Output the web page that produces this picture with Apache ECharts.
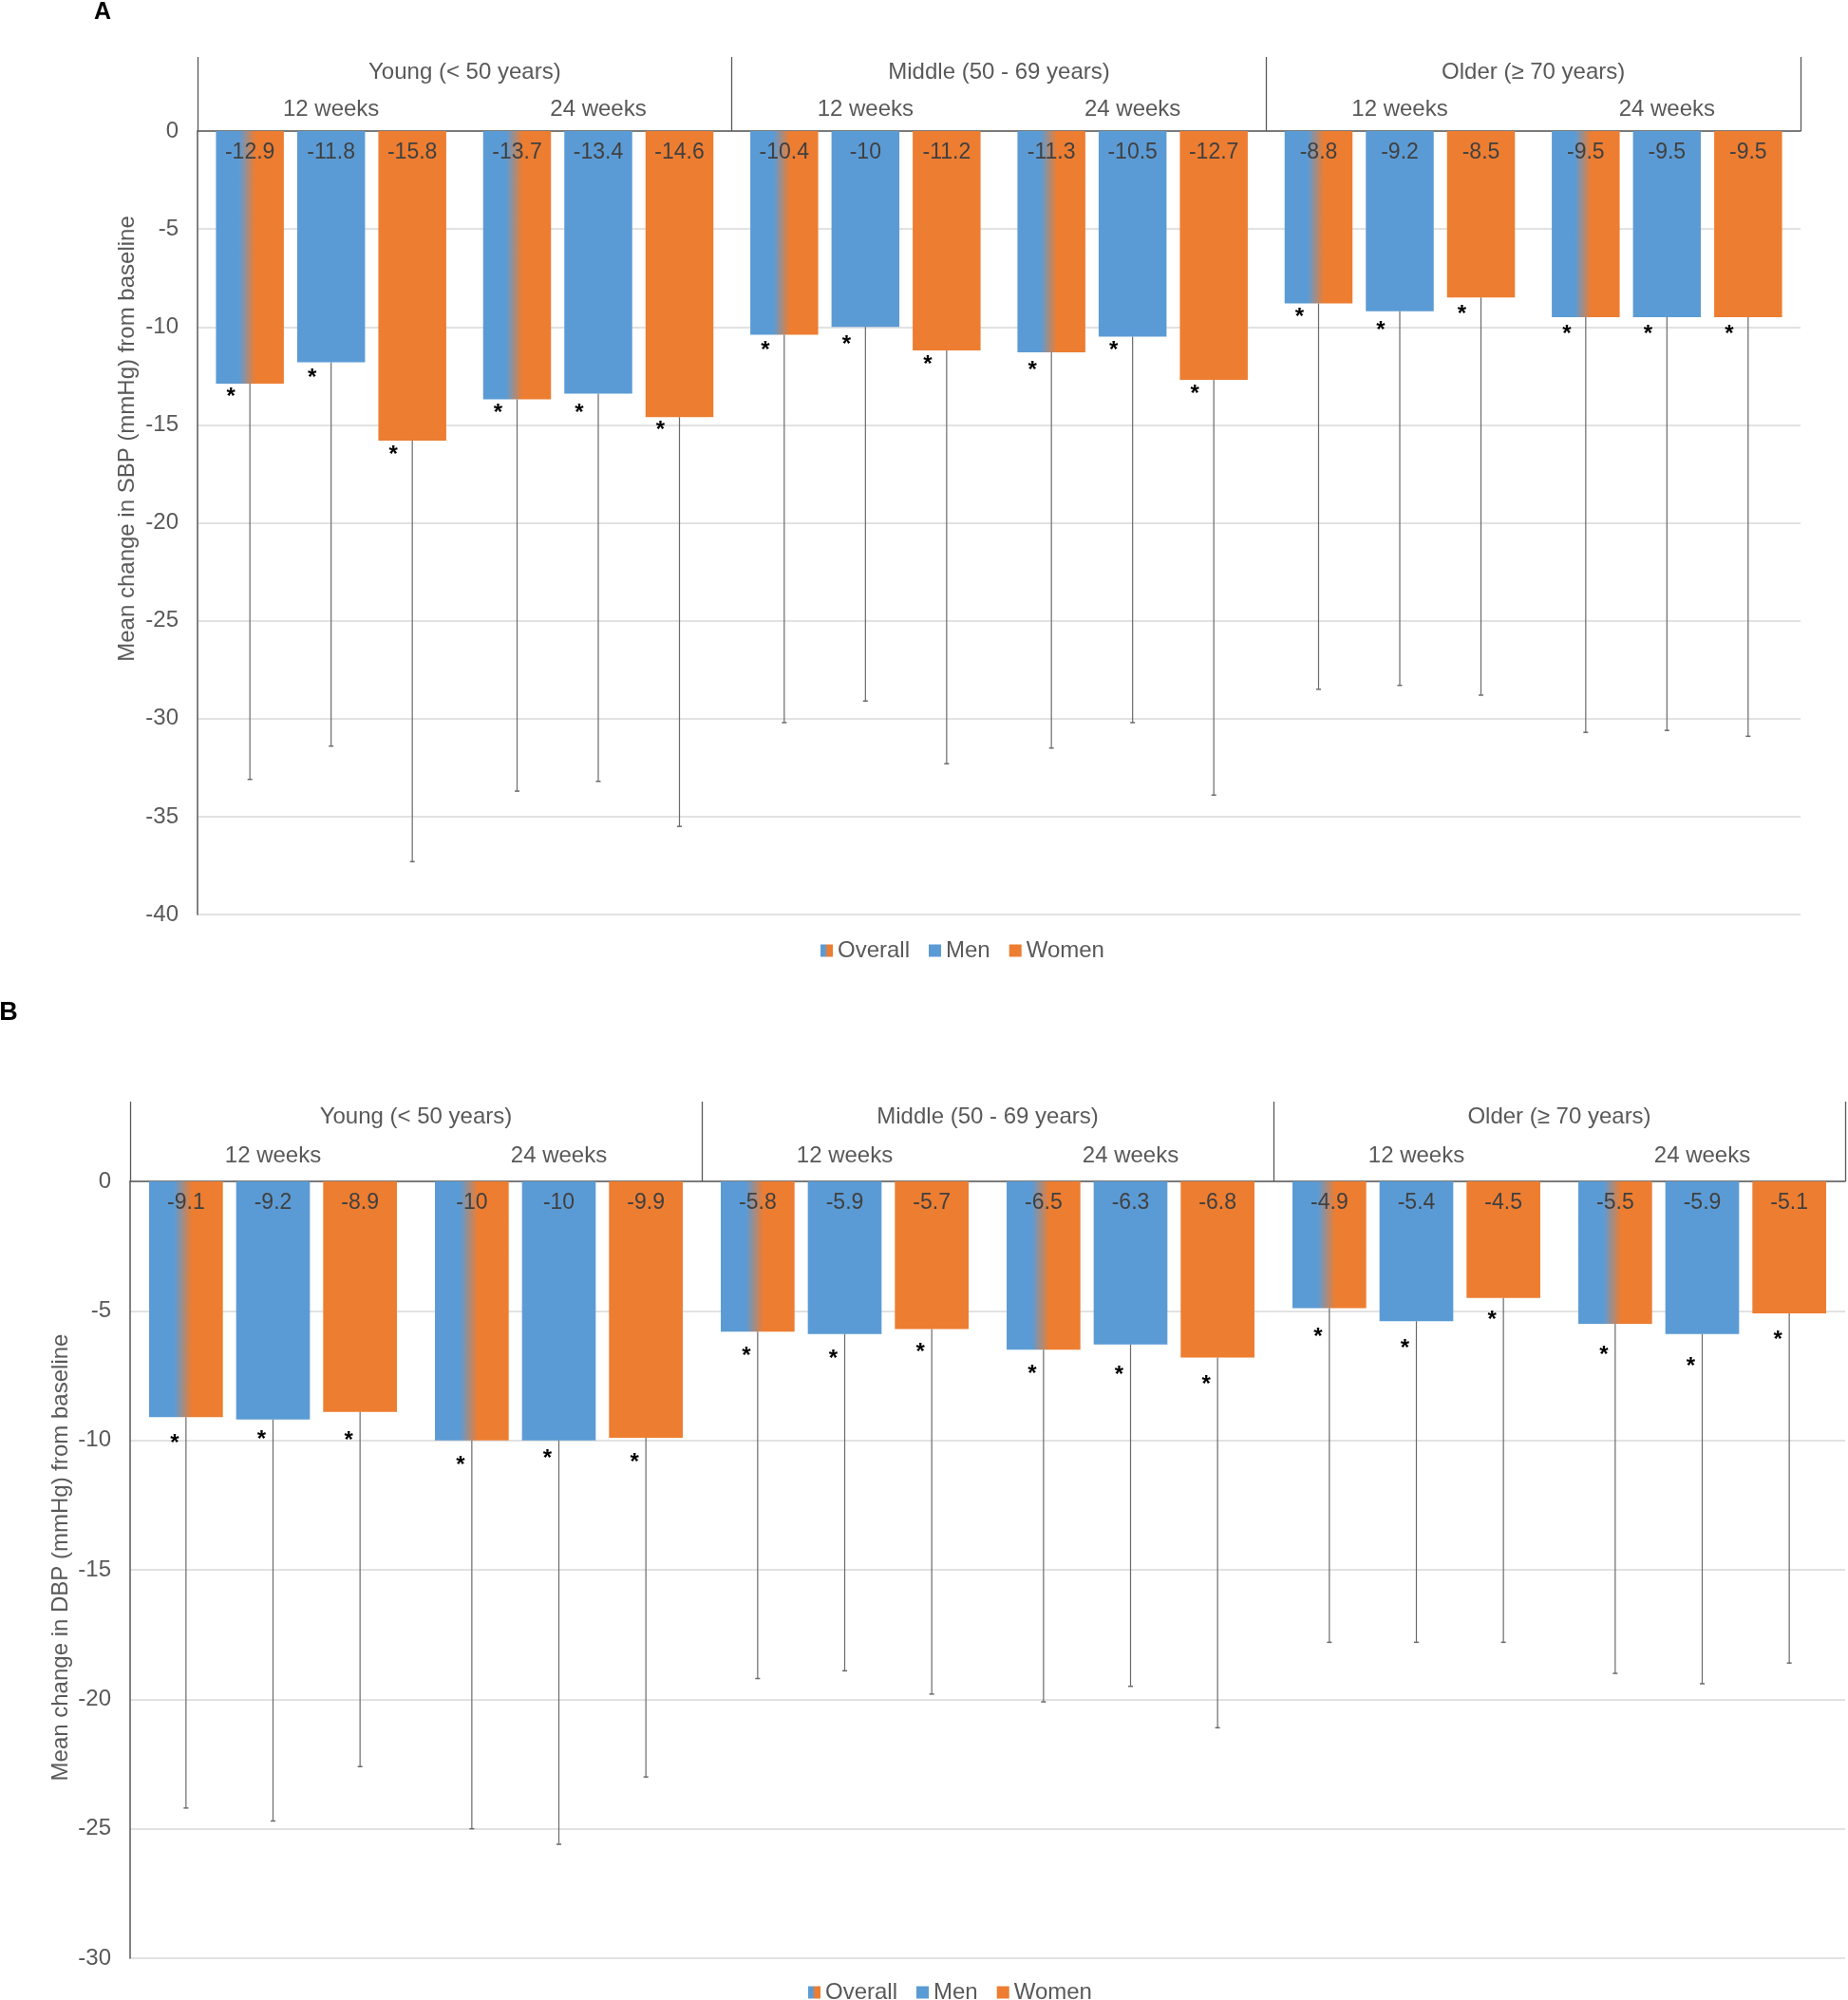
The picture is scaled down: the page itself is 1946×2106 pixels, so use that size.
<!DOCTYPE html>
<html><head><meta charset="utf-8">
<script src="https://cdn.jsdelivr.net/npm/echarts@6/dist/echarts.min.js"></script>
<style>html,body{margin:0;padding:0;background:#fff}#c{width:1946px;height:2106px}</style>
</head><body><div id="c"></div>
<script>
// ---------- data ----------
const ageGroups = ['Young (< 50 years)', 'Middle (50 - 69 years)', 'Older (≥ 70 years)'];
const timePoints = ['12 weeks', '24 weeks', '12 weeks', '24 weeks', '12 weeks', '24 weeks'];
const seriesNames = ['Overall', 'Men', 'Women'];

// Panel A: SBP
const sbpOverall = [-12.9, -13.7, -10.4, -11.3, -8.8, -9.5];
const sbpMen     = [-11.8, -13.4, -10, -10.5, -9.2, -9.5];
const sbpWomen   = [-15.8, -14.6, -11.2, -12.7, -8.5, -9.5];
const sbpLowerOverall = [-33.1, -33.7, -30.2, -31.5, -28.5, -30.7];
const sbpLowerMen     = [-31.4, -33.2, -29.1, -30.2, -28.3, -30.6];
const sbpLowerWomen   = [-37.3, -35.5, -32.3, -33.9, -28.8, -30.9];
const sbpStarOverall = [-13.35, -14.19, -10.97, -11.99, -9.28, -10.13];
const sbpStarMen     = [-12.38, -14.19, -10.67, -10.97, -9.97, -10.13];
const sbpStarWomen   = [-16.29, -15.03, -11.68, -13.19, -9.13, -10.13];

// Panel B: DBP
const dbpOverall = [-9.1, -10, -5.8, -6.5, -4.9, -5.5];
const dbpMen     = [-9.2, -10, -5.9, -6.3, -5.4, -5.9];
const dbpWomen   = [-8.9, -9.9, -5.7, -6.8, -4.5, -5.1];
const dbpLowerOverall = [-24.2, -25.0, -19.2, -20.1, -17.8, -19.0];
const dbpLowerMen     = [-24.7, -25.6, -18.9, -19.5, -17.8, -19.4];
const dbpLowerWomen   = [-22.6, -23.0, -19.8, -21.1, -17.8, -18.6];
const dbpStarOverall = [-9.94, -10.78, -6.59, -7.28, -5.85, -6.54];
const dbpStarMen     = [-9.79, -10.53, -6.69, -7.33, -6.30, -6.99];
const dbpStarWomen   = [-9.84, -10.68, -6.45, -7.68, -5.17, -5.95];

// ---------- styling ----------
const FONT = '"Liberation Sans", Arial, Helvetica, sans-serif';
const TXT = '#595959';
const BLUE = '#5B9BD5', ORANGE = '#ED7D31';
const overallFill = {type: 'linear', x: 0, y: 0, x2: 1, y2: 0, colorStops: [
  {offset: 0, color: BLUE}, {offset: 0.34, color: BLUE},
  {offset: 0.58, color: ORANGE}, {offset: 1, color: ORANGE}]};
const fills = [overallFill, BLUE, ORANGE];

function errData(vals, lows, stars) {
  const out = [];
  for (let s = 0; s < 3; s++) for (let i = 0; i < 6; i++) out.push([i, s, vals[s][i], lows[s][i], stars[s][i]]);
  return out;
}

function makeRender(gap, catGap, astDx) {
  return function (params, api) {
    const cat = api.value(0), s = api.value(1);
    const c = api.coord([cat, 0]);
    const band = api.size([1, 0])[0];
    const bw = band * (1 - catGap) / (3 + 2 * gap);
    const x = c[0] + (s - 1) * bw * (1 + gap);
    const yv = api.coord([cat, api.value(2)])[1];
    const yl = api.coord([cat, api.value(3)])[1];
    const ya = api.coord([cat, api.value(4)])[1];
    return {type: 'group', children: [
      {type: 'line', shape: {x1: x, y1: yv, x2: x, y2: yl}, style: {stroke: '#6b6b6b', lineWidth: 1.2}},
      {type: 'line', shape: {x1: x - 2.5, y1: yl, x2: x + 2.5, y2: yl}, style: {stroke: '#6b6b6b', lineWidth: 1.5}},
      {type: 'text', x: x + astDx, y: ya + 5, style: {text: '*', fill: '#000', font: 'bold 24px ' + FONT, align: 'center', verticalAlign: 'middle'}}
    ]};
  };
}

const gapA = 0.196, catGapA = 0.138;
const gapB = 0.18, catGapB = 0.133;

function ageAxis(grid, margin, tickLen) {
  return {type: 'category', gridIndex: grid, position: 'top', data: ageGroups,
    axisLine: {show: true, onZero: false, lineStyle: {color: TXT, width: 1.5}},
    axisTick: {show: true, length: tickLen, interval: 0, lineStyle: {color: TXT, width: 1.3}},
    axisLabel: {margin: margin, fontSize: 24, color: TXT, fontFamily: FONT, interval: 0},
    splitLine: {show: false}};
}
function timeAxis(grid, margin) {
  return {type: 'category', gridIndex: grid, position: 'top', data: timePoints,
    axisLine: {show: false, onZero: false}, axisTick: {show: false},
    axisLabel: {margin: margin, fontSize: 24, color: TXT, fontFamily: FONT, interval: 0},
    splitLine: {show: false}};
}
function valAxis(grid, min) {
  return {type: 'value', gridIndex: grid, min: min, max: 0, interval: 5,
    axisLine: {show: true, lineStyle: {color: TXT, width: 1.5}},
    axisTick: {show: false},
    axisLabel: {margin: 20, fontSize: 24, color: TXT, fontFamily: FONT},
    splitLine: {show: true, lineStyle: {color: '#D9D9D9', width: 1.5}}};
}
function barSeries(xi, yi, vals, gap, catGap) {
  return vals.map((v, s) => ({
    type: 'bar', name: seriesNames[s], xAxisIndex: xi, yAxisIndex: yi, data: v,
    barGap: (gap * 100) + '%', barCategoryGap: (catGap * 100) + '%',
    itemStyle: {color: fills[s]},
    label: {show: true, position: 'insideTop', distance: 11, fontSize: 23, color: '#404040', fontFamily: FONT},
    z: 2
  }));
}

const legendCommon = {orient: 'horizontal', icon: 'rect', itemWidth: 13, itemHeight: 13, itemGap: 20,
  data: seriesNames, textStyle: {fontSize: 24, color: TXT, fontFamily: FONT}};

const option = {
  animation: false,
  backgroundColor: '#fff',
  grid: [
    {left: 208, width: 1688, top: 138, height: 825, outerBoundsMode: 'none', containLabel: false},
    {left: 137, width: 1806, top: 1244, height: 818, outerBoundsMode: 'none', containLabel: false}
  ],
  xAxis: [timeAxis(0, 11), ageAxis(0, 50, 78), timeAxis(1, 15), ageAxis(1, 56, 84)],
  yAxis: [valAxis(0, -40), valAxis(1, -30)],
  legend: [
    Object.assign({left: 859, top: 984}, legendCommon),
    Object.assign({left: 846, top: 2081}, legendCommon)
  ],
  graphic: [
    {type: 'text', x: 108, y: 13, style: {text: 'A', font: 'bold 25px ' + FONT, fill: '#000', align: 'center', verticalAlign: 'middle'}},
    {type: 'text', x: 9, y: 1067, style: {text: 'B', font: 'bold 27px ' + FONT, fill: '#000', align: 'center', verticalAlign: 'middle'}},
    {type: 'text', x: 134, y: 462, rotation: Math.PI / 2, style: {text: 'Mean change in SBP (mmHg) from baseline', font: '24px ' + FONT, fill: TXT, align: 'center', verticalAlign: 'middle'}},
    {type: 'text', x: 64, y: 1640, rotation: Math.PI / 2, style: {text: 'Mean change in DBP (mmHg) from baseline', font: '24px ' + FONT, fill: TXT, align: 'center', verticalAlign: 'middle'}}
  ],
  series: [
    ...barSeries(0, 0, [sbpOverall, sbpMen, sbpWomen], gapA, catGapA),
    {type: 'custom', name: 'errA', xAxisIndex: 0, yAxisIndex: 0, z: 5, clip: false,
      encode: {x: 0, y: [2, 3, 4]},
      renderItem: makeRender(gapA, catGapA, -20),
      data: errData([sbpOverall, sbpMen, sbpWomen], [sbpLowerOverall, sbpLowerMen, sbpLowerWomen], [sbpStarOverall, sbpStarMen, sbpStarWomen])},
    ...barSeries(2, 1, [dbpOverall, dbpMen, dbpWomen], gapB, catGapB),
    {type: 'custom', name: 'errB', xAxisIndex: 2, yAxisIndex: 1, z: 5, clip: false,
      encode: {x: 0, y: [2, 3, 4]},
      renderItem: makeRender(gapB, catGapB, -12),
      data: errData([dbpOverall, dbpMen, dbpWomen], [dbpLowerOverall, dbpLowerMen, dbpLowerWomen], [dbpStarOverall, dbpStarMen, dbpStarWomen])}
  ]
};

const chart = echarts.init(document.getElementById('c'), null, {renderer: 'canvas', width: 1946, height: 2106});
chart.setOption(option);
</script></body></html>
